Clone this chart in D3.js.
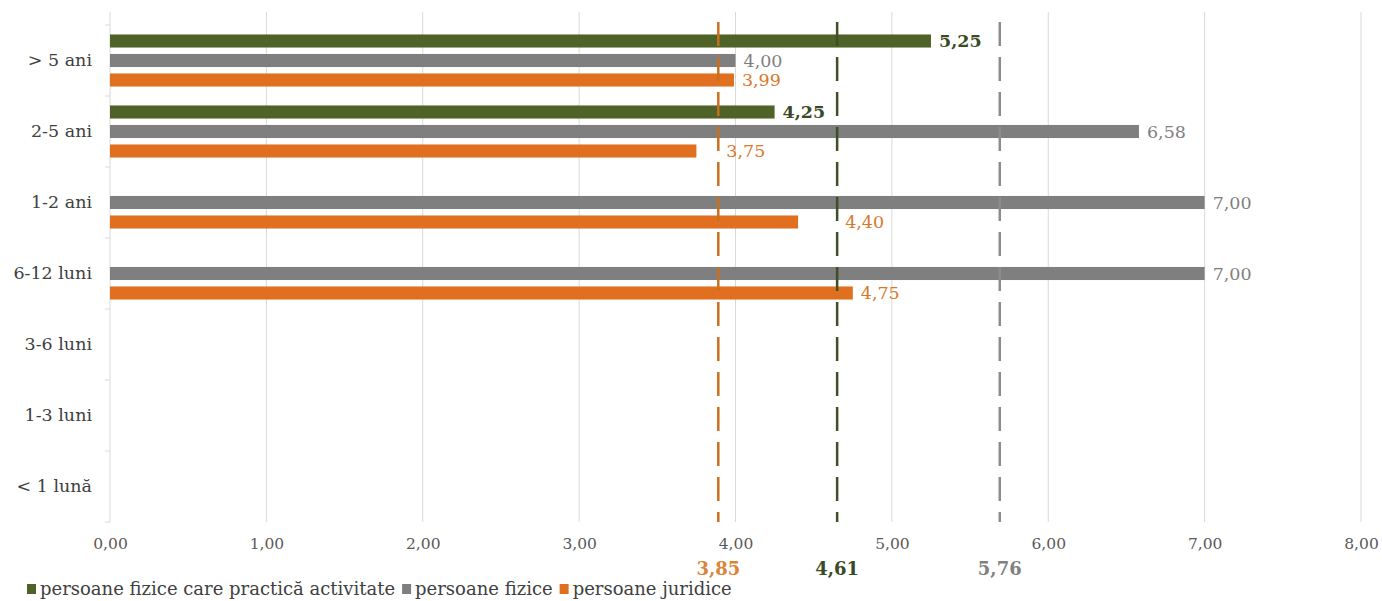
<!DOCTYPE html>
<html>
<head>
<meta charset="utf-8">
<script src="https://cdn.jsdelivr.net/npm/d3@7"></script>
<style>
  body { margin: 0; background: #fff; }
  svg text { font-family: "DejaVu Serif", serif; }
</style>
</head>
<body>
<svg id="chart"></svg>
<script>
// categories top to bottom
var categories = ["> 5 ani", "2-5 ani", "1-2 ani", "6-12 luni", "3-6 luni", "1-3 luni", "< 1 lună"];
var seriesNames = ["persoane fizice care practică activitate", "persoane fizice", "persoane juridice"];
var pfaValues = [5.25, 4.25, null, null, null, null, null];
var pfValues = [4.00, 6.58, 7.00, 7.00, null, null, null];
var pjValues = [3.99, 3.75, 4.40, 4.75, null, null, null];
var xTicks = [0, 1, 2, 3, 4, 5, 6, 7, 8];
// average lines: label values and where the dashed lines sit in the picture
var avgLabels = [3.85, 4.61, 5.76];
var avgLinePos = [3.89, 4.65, 5.69];

var colors = ["#4f6228", "#7f7f7f", "#e07020"];
var labelColors = ["#3b4a25", "#7f7f7f", "#d9782a"];
var avgColors = ["#c8701e", "#3f4f26", "#8c8c8c"];
var avgTextColors = ["#d9863a", "#3b4a25", "#808080"];

var width = 1382, height = 601;
var fmt = function(v) { return v.toFixed(2).replace(".", ","); };

var svg = d3.select("#chart").attr("width", width).attr("height", height);

var x = d3.scaleLinear().domain([0, 8]).range([110, 1361]);
var y = d3.scaleBand().domain(categories).range([25, 522]);

// gridlines
svg.append("g").selectAll("line")
    .data(xTicks.slice(1))
    .enter().append("line")
    .attr("x1", d => x(d)).attr("x2", d => x(d))
    .attr("y1", 12).attr("y2", 522)
    .attr("stroke", "#d9d9d9").attr("stroke-width", 1);

// y axis
var yAxis = svg.append("g").attr("transform", "translate(" + x(0) + ",0)")
    .call(d3.axisLeft(y).tickSize(0).tickPadding(18));
yAxis.select(".domain").attr("stroke", "#d9d9d9").attr("d", "M0,12V522");
yAxis.selectAll("text").attr("font-size", 17.5).attr("fill", "#404040");
// category separator ticks
svg.append("g").selectAll("line")
    .data(d3.range(categories.length + 1))
    .enter().append("line")
    .attr("x1", x(0) - 5).attr("x2", x(0))
    .attr("y1", i => 25 + i * y.step()).attr("y2", i => 25 + i * y.step())
    .attr("stroke", "#d9d9d9");

// x axis labels
var xAxis = svg.append("g").attr("transform", "translate(0,522)")
    .call(d3.axisBottom(x).tickValues(xTicks).tickFormat(fmt).tickSize(0).tickPadding(16));
xAxis.select(".domain").remove();
xAxis.selectAll("text").attr("font-size", 15.5).attr("fill", "#595959");

// bars
var allSeries = [pfaValues, pfValues, pjValues];
var rows = [];
allSeries.forEach(function(vals, s) {
  vals.forEach(function(v, i) {
    if (v != null) rows.push({s: s, cat: categories[i], v: v});
  });
});

var inner = d3.scaleBand().domain([0, 1, 2]).paddingInner(0.33).paddingOuter(0.165);
function barY(d) {
  var c = y(d.cat) + y.bandwidth() / 2;
  inner.range([c - 29.25, c + 29.25]);
  return inner(d.s);
}

svg.append("g").selectAll("rect")
    .data(rows)
    .enter().append("rect")
    .attr("x", x(0))
    .attr("y", d => barY(d))
    .attr("width", d => x(d.v) - x(0))
    .attr("height", () => inner.bandwidth())
    .attr("fill", d => colors[d.s]);

// dashed average lines
svg.append("g").selectAll("line")
    .data(avgLinePos)
    .enter().append("line")
    .attr("x1", d => x(d)).attr("x2", d => x(d))
    .attr("y1", 22).attr("y2", 522)
    .attr("stroke", (d, i) => avgColors[i])
    .attr("stroke-width", 2.5)
    .attr("stroke-dasharray", "24,11");

// value labels
svg.append("g").selectAll("text")
    .data(rows)
    .enter().append("text")
    .attr("x", function(d) {
      var lx = x(d.v) + 8, w = 42;
      avgLinePos.forEach(function(p) {
        var px = x(p);
        if (px > lx - 3 && px < lx + w) lx = px + 8;
      });
      return lx;
    })
    .attr("y", d => barY(d) + inner.bandwidth() / 2)
    .attr("dy", "0.35em")
    .attr("font-size", 17.5)
    .attr("font-weight", d => d.s === 0 ? "bold" : "normal")
    .attr("fill", d => labelColors[d.s])
    .text(d => fmt(d.v));

// average labels
svg.append("g").selectAll("text")
    .data(avgLabels)
    .enter().append("text")
    .attr("x", (d, i) => x(avgLinePos[i]))
    .attr("y", 569)
    .attr("dy", "0.35em")
    .attr("text-anchor", "middle")
    .attr("font-size", 18)
    .attr("font-weight", "bold")
    .attr("fill", (d, i) => avgTextColors[i])
    .text(d => fmt(d));

// legend
var legend = svg.append("g").attr("transform", "translate(0,589)");
var lx = 27;
seriesNames.forEach(function(name, i) {
  legend.append("rect").attr("x", lx).attr("y", -5).attr("width", 9).attr("height", 10).attr("fill", colors[i]);
  var t = legend.append("text").attr("x", lx + 13).attr("y", 0).attr("dy", "0.35em")
      .attr("font-size", 18).attr("fill", "#404040").text(name);
  lx += 13 + t.node().getComputedTextLength() + 7;
});
</script>
</body>
</html>
